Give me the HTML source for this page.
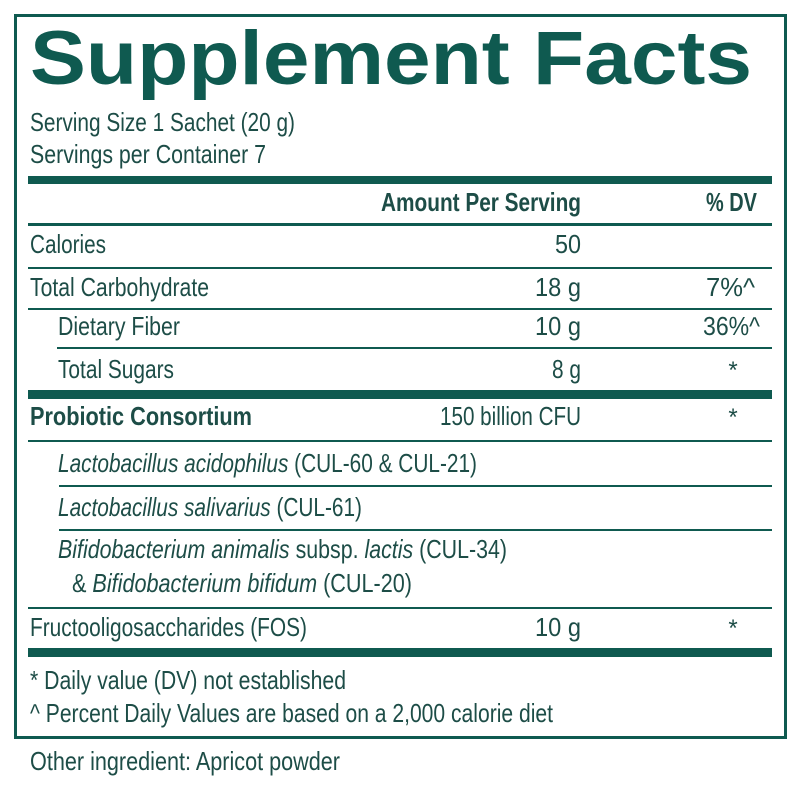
<!DOCTYPE html>
<html><head><meta charset="utf-8"><style>
html,body{margin:0;padding:0;background:#fff;}
svg{display:block}
text{font-family:"Liberation Sans Narrow","Liberation Sans",sans-serif;fill:#1d4d47;font-size:26px}
.b{font-weight:bold}
.i{font-style:italic}
.s{font-size:24px}
</style></head><body>
<svg width="800" height="791" viewBox="0 0 800 791" xmlns="http://www.w3.org/2000/svg">
<rect x="15.5" y="15.5" width="770" height="722" fill="none" stroke="#0f5a50" stroke-width="3"/>
<text x="30" y="84" class="b" style="font-family:'Liberation Sans',sans-serif;font-size:76px;fill:#0f5a50" textLength="722" lengthAdjust="spacingAndGlyphs">Supplement Facts</text>
<text x="30" y="131" textLength="265" lengthAdjust="spacingAndGlyphs">Serving Size 1 Sachet (20 g)</text>
<text x="30" y="163" textLength="236" lengthAdjust="spacingAndGlyphs">Servings per Container 7</text>
<g fill="#0f5a50">
<rect x="28" y="176" width="744" height="8"/>
<rect x="28" y="223" width="744" height="3"/>
<rect x="28" y="267" width="744" height="2"/>
<rect x="28" y="308" width="744" height="2"/>
<rect x="57" y="347" width="715" height="2"/>
<rect x="28" y="390" width="744" height="9"/>
<rect x="28" y="440" width="744" height="2"/>
<rect x="59" y="485" width="713" height="2"/>
<rect x="59" y="529" width="713" height="2"/>
<rect x="28" y="607" width="744" height="2"/>
<rect x="28" y="648" width="744" height="9"/>
</g>
<text x="381" y="211" class="b" textLength="200" lengthAdjust="spacingAndGlyphs">Amount Per Serving</text>
<text x="706" y="211" class="b" textLength="51" lengthAdjust="spacingAndGlyphs">% DV</text>
<text x="30" y="253" textLength="76" lengthAdjust="spacingAndGlyphs">Calories</text>
<text x="555" y="253" textLength="26" lengthAdjust="spacingAndGlyphs">50</text>
<text x="30" y="296" textLength="179" lengthAdjust="spacingAndGlyphs">Total Carbohydrate</text>
<text x="535" y="296" textLength="46" lengthAdjust="spacingAndGlyphs">18 g</text>
<text x="706" y="296" textLength="49" lengthAdjust="spacingAndGlyphs">7%^</text>
<text x="58" y="335" textLength="122" lengthAdjust="spacingAndGlyphs">Dietary Fiber</text>
<text x="535" y="335" textLength="46" lengthAdjust="spacingAndGlyphs">10 g</text>
<text x="703" y="335" textLength="57" lengthAdjust="spacingAndGlyphs">36%^</text>
<text x="58" y="378" textLength="116" lengthAdjust="spacingAndGlyphs">Total Sugars</text>
<text x="552" y="378" textLength="29" lengthAdjust="spacingAndGlyphs">8 g</text>
<text x="733" y="378" text-anchor="middle" class="s">*</text>
<text x="30" y="425" class="b" textLength="222" lengthAdjust="spacingAndGlyphs">Probiotic Consortium</text>
<text x="440" y="425" textLength="141" lengthAdjust="spacingAndGlyphs">150 billion CFU</text>
<text x="733" y="425" text-anchor="middle" class="s">*</text>
<text x="58" y="472" textLength="419" lengthAdjust="spacingAndGlyphs"><tspan class="i">Lactobacillus acidophilus</tspan> (CUL-60 &amp; CUL-21)</text>
<text x="58" y="516" textLength="304" lengthAdjust="spacingAndGlyphs"><tspan class="i">Lactobacillus salivarius</tspan> (CUL-61)</text>
<text x="58" y="558" textLength="449" lengthAdjust="spacingAndGlyphs"><tspan class="i">Bifidobacterium animalis</tspan> subsp. <tspan class="i">lactis</tspan> (CUL-34)</text>
<text x="72" y="592" textLength="340" lengthAdjust="spacingAndGlyphs">&amp; <tspan class="i">Bifidobacterium bifidum</tspan> (CUL-20)</text>
<text x="30" y="636" textLength="277" lengthAdjust="spacingAndGlyphs">Fructooligosaccharides (FOS)</text>
<text x="535" y="636" textLength="46" lengthAdjust="spacingAndGlyphs">10 g</text>
<text x="733" y="636" text-anchor="middle" class="s">*</text>
<text x="30" y="689" textLength="316" lengthAdjust="spacingAndGlyphs">* Daily value (DV) not established</text>
<text x="30" y="722" textLength="523" lengthAdjust="spacingAndGlyphs">^ Percent Daily Values are based on a 2,000 calorie diet</text>
<text x="30" y="770" textLength="310" lengthAdjust="spacingAndGlyphs">Other ingredient: Apricot powder</text>
</svg>
</body></html>
